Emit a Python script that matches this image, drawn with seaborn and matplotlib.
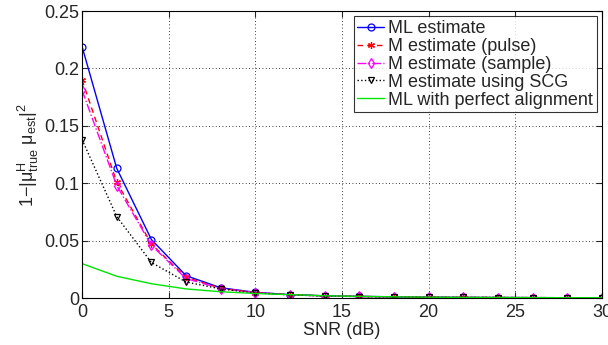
import matplotlib
matplotlib.use("Agg")
import matplotlib.pyplot as plt
import pandas as pd
import seaborn as sns

snr = [0, 2, 4, 6, 8, 10, 12, 14, 16, 18, 20, 22, 24, 26, 28, 30]
ml_est = [0.219, 0.113, 0.051, 0.0195, 0.009, 0.005, 0.003, 0.002, 0.0015, 0.0011, 0.0008, 0.0006, 0.0005, 0.0004, 0.0003, 0.0003]
m_pulse = [0.190, 0.101, 0.047, 0.018, 0.0085, 0.0048, 0.0029, 0.0019, 0.0014, 0.001, 0.0008, 0.0006, 0.0005, 0.0004, 0.0003, 0.0003]
m_sample = [0.181, 0.098, 0.046, 0.017, 0.0083, 0.0047, 0.0028, 0.0019, 0.0014, 0.001, 0.0008, 0.0006, 0.0005, 0.0004, 0.0003, 0.0003]
m_scg = [0.138, 0.071, 0.031, 0.014, 0.008, 0.0045, 0.0028, 0.0018, 0.0013, 0.001, 0.0007, 0.0006, 0.0005, 0.0004, 0.0003, 0.0003]
ml_perfect = [0.030, 0.019, 0.0125, 0.008, 0.0055, 0.004, 0.003, 0.002, 0.0015, 0.0011, 0.0008, 0.0006, 0.0005, 0.0004, 0.0003, 0.0003]

# (label, values, colour, linestyle, marker, filled)
series = [
    ("ML estimate", ml_est, "#0000ff", "-", "o", False),
    ("M estimate (pulse)", m_pulse, "#ff0000", (0, (4, 3)), (6, 2, 0), True),
    ("M estimate (sample)", m_sample, "#ff00ff", "-.", "d", False),
    ("M estimate using SCG", m_scg, "black", ":", "v", False),
    ("ML with perfect alignment", ml_perfect, "#00e600", "-", None, False),
]

sns.set_style("ticks")
plt.rcParams["font.family"] = ["Liberation Sans", "DejaVu Sans"]
plt.rcParams["mathtext.fontset"] = "custom"
plt.rcParams["mathtext.rm"] = "Liberation Sans"
plt.rcParams["mathtext.it"] = "Liberation Sans"
plt.rcParams["mathtext.default"] = "regular"

fig = plt.figure(figsize=(6.08, 3.45), dpi=100)
ax = fig.add_axes([0.135, 0.136, 0.855, 0.832])

for name, vals, col, ls, mk, filled in series:
    df = pd.DataFrame({"snr": snr, "val": vals})
    sns.lineplot(data=df, x="snr", y="val", ax=ax, label=name, color=col,
                 linestyle=ls, linewidth=1.0, marker=mk, markersize=5,
                 markerfacecolor=col if filled else "none", markeredgecolor=col,
                 markeredgewidth=0.9)

ax.set_xlim(0, 30)
ax.set_ylim(0, 0.25)
ax.set_xticks(range(0, 31, 5))
ax.set_yticks([0, 0.05, 0.1, 0.15, 0.2, 0.25])
ax.set_yticklabels(["0", "0.05", "0.1", "0.15", "0.2", "0.25"])
ax.grid(True, color="black", linestyle=(0, (1, 3)), linewidth=0.6)
ax.tick_params(direction="in", top=True, right=True, labelsize=13, length=4, width=0.8, pad=2)
ax.tick_params(axis="x", pad=4)
for s in ax.spines.values():
    s.set_visible(True)
    s.set_linewidth(0.8)
    s.set_color("black")
ax.set_xlabel("SNR (dB)", fontsize=13, labelpad=1)
ax.set_ylabel(r"$1{-}|\mu_{true}^{H}\ \mu_{est}|^{2}$", fontsize=13, labelpad=2)

leg = ax.legend(loc="upper right", fontsize=13, frameon=True, fancybox=False,
                edgecolor="black", borderpad=0.2, labelspacing=0.05, handlelength=1.5,
                handletextpad=0.2, borderaxespad=0.3)
leg.get_frame().set_linewidth(0.8)

fig.savefig("out.png", dpi=100)
